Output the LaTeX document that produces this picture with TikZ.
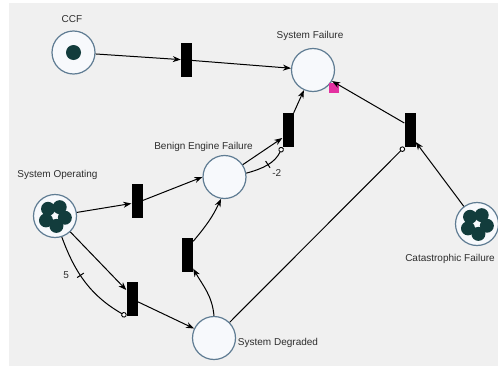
\documentclass[tikz,border=0pt]{standalone}
\usepackage{fontspec}
\setmainfont{Liberation Sans}
\usepackage{tikz}
\usetikzlibrary{arrows.meta}
\definecolor{canvasgray}{RGB}{240,240,240}
\definecolor{placeline}{RGB}{95,124,147}
\definecolor{placefill}{RGB}{247,249,252}
\definecolor{tokencol}{RGB}{18,60,60}
\definecolor{labelcol}{RGB}{45,45,45}
\definecolor{markcol}{RGB}{228,48,160}
\tikzset{
  place/.style={circle,draw=placeline,fill=placefill,line width=1.2pt,minimum size=43pt,inner sep=0pt},
  trans/.style={rectangle,fill=black,minimum width=11pt,minimum height=34pt,inner sep=0pt},
  lbl/.style={text=labelcol,font=\fontsize{10}{12}\selectfont,inner sep=0pt},
  arc/.style={-{Stealth[length=8pt,width=6pt,inset=2.5pt]},line width=1pt},
  inhib/.style={-{Circle[length=5.5pt,width=5.5pt,fill=white,line width=0.9pt]},line width=1pt},
  wtick/.style={sloped,inner sep=0pt},
  token/.style={fill=tokencol}
}

\begin{document}
\begin{tikzpicture}[x=1pt,y=1pt]
\useasboundingbox (0,0) rectangle (498,368);
\fill[canvasgray] (9,2) rectangle (498,365);
\node[place] (ccf) at (73.5,315.5) {};
\node[place] (sysfail) at (313,298) {};
\node[place] (benign) at (224.5,191) {};
\node[place] (sysop) at (55,152) {};
\node[place] (sysdeg) at (214,30) {};
\node[place] (catas) at (477,144) {};
\fill[token] (ccf) circle (7.5);
\foreach \a in {62,134,206,278,350} {
  \fill[token] (sysop) ++(\a:10) circle (7);
  \fill[token] (catas) ++(\a:10) circle (7);
}
\node[lbl] (lccf) at (72,349) {CCF};
\node[lbl] (lsysfail) at (310,332) {System Failure};
\node[lbl] (lbenign) at (203.5,221) {Benign Engine Failure};
\node[lbl] (lsysop) at (57.5,193) {System Operating};
\node[lbl] (lsysdeg) at (278,25) {System Degraded};
\node[lbl] (lcatas) at (450,109) {Catastrophic Failure};
\node[trans] (t1) at (186.5,308) {};
\node[trans] (t2) at (288,238) {};
\node[trans] (t3) at (410,238) {};
\node[trans] (t4) at (137,167.5) {};
\node[trans] (t5) at (187.5,113.5) {};
\node[trans] (t6) at (132,69) {};
\node[fill=markcol,minimum size=10pt,inner sep=0pt] (mark) at (334,280) {};
\draw[arc] (ccf) -- (t1);
\draw[arc] (t1) -- (sysfail);
\draw[arc] (t2.north east) -- (sysfail);
\draw[arc] ([yshift=7pt]t3.west) -- (sysfail);
\draw[arc] (benign) -- ([yshift=-8pt]t2.west);
\draw[inhib] (benign.10) to[out=15,in=-115] node[wtick,pos=0.5] (tk2) {\rule[-4pt]{1pt}{8pt}} node[lbl,pos=0.5,anchor=north west,shift={(4pt,-5pt)}] (w2) {-2} (t2.south west);
\draw[arc] (sysop) -- ([yshift=-3pt]t4.west);
\draw[arc] (t4.east) -- (benign.west);
\draw[arc] (sysop) -- ([yshift=9pt]t6.west);
\draw[inhib] (sysop.-72) to[out=-70,in=150] node[wtick,pos=0.4] (tk5) {\rule[-4pt]{1pt}{8pt}} node[lbl,pos=0.4,left=11pt] (w5) {5} (t6.south west);
\draw[arc] (t6) -- (sysdeg);
\draw[arc] (sysdeg.north) to[out=95,in=-60] ([yshift=3pt]t5.south east);
\draw[arc] ([yshift=-4pt]t5.north east) to[out=50,in=-115] (benign.-99);
\draw[inhib] (sysdeg) -- (t3.south west);
\draw[arc] (catas) -- ([yshift=-12pt]t3.east);
\end{tikzpicture}
\end{document}
